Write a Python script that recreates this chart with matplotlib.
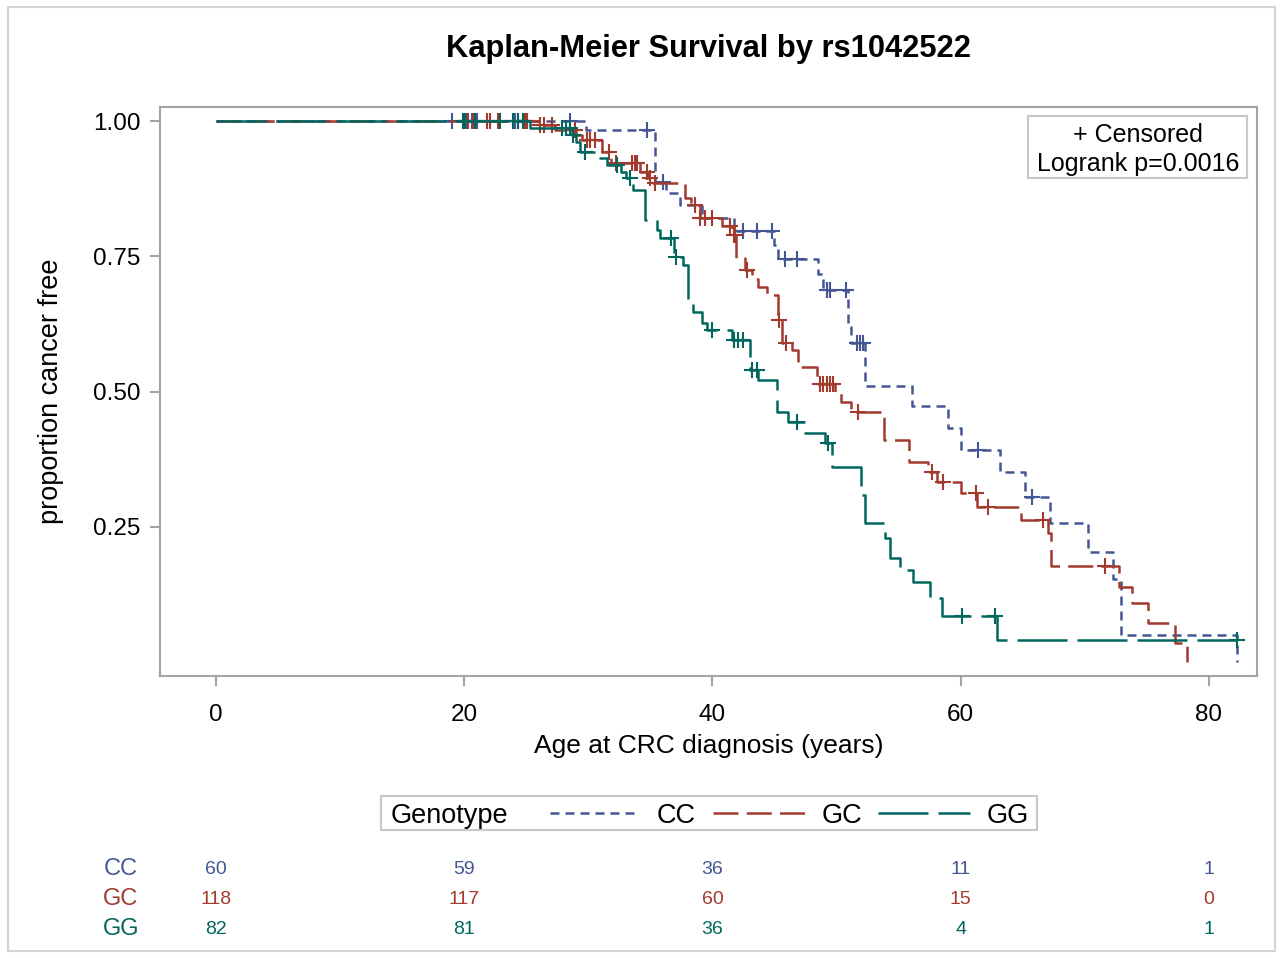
import numpy as np
import matplotlib
matplotlib.use('Agg')
import matplotlib.pyplot as plt
import matplotlib.transforms as mtransforms
from matplotlib.patches import Rectangle
from matplotlib.lines import Line2D

plt.rcParams['font.family'] = ['Liberation Sans', 'DejaVu Sans']

# ---------------- data ----------------
groups = ['CC', 'GC', 'GG']
colors = {'CC': '#445694', 'GC': '#A23A2E', 'GG': '#01665E'}

# event times and survival after each event
cc_t = [29.8, 35.4, 36.3, 37.4, 39.2, 41.7, 45.0, 45.3, 48.5, 48.9, 50.9, 51.2, 52.3,
        56.1, 59.0, 60.0, 63.2, 65.2, 67.2, 70.3, 72.3, 72.9, 82.3]
cc_s = [0.983, 0.887, 0.867, 0.845, 0.821, 0.797, 0.771, 0.745, 0.717, 0.688, 0.619, 0.590, 0.510,
        0.474, 0.433, 0.393, 0.351, 0.305, 0.257, 0.204, 0.153, 0.051, 0.0]
cc_c = [19.0, 20.2, 20.6, 21.0, 24.1, 24.7, 25.1, 28.5, 34.7, 36.0, 42.5, 43.6, 44.8,
        45.85, 46.8, 49.2, 49.5, 50.8, 51.65, 51.9, 52.1, 61.4, 65.75]

gc_t = [26.0, 27.3, 29.0, 29.5, 31.1, 31.8, 34.2, 34.8, 35.2, 37.8, 38.3, 39.0, 40.8, 41.6,
        41.9, 42.6, 43.2, 43.7, 44.4, 45.3, 45.6, 46.4, 46.9, 48.4, 49.9, 50.4, 51.2, 53.8,
        55.8, 57.4, 58.1, 60.0, 61.3, 64.9, 67.0, 67.3, 72.8, 73.8, 75.1, 77.3, 78.2]
gc_s = [0.992, 0.983, 0.974, 0.965, 0.943, 0.922, 0.906, 0.894, 0.885, 0.858, 0.845, 0.821,
        0.806, 0.789, 0.747, 0.725, 0.708, 0.693, 0.678, 0.632, 0.590, 0.577, 0.546, 0.514,
        0.497, 0.480, 0.463, 0.410, 0.370, 0.352, 0.333, 0.313, 0.287, 0.263, 0.239, 0.177,
        0.140, 0.110, 0.073, 0.036, 0.0]
gc_c = [20.3, 20.7, 21.8, 22.1, 22.7, 24.3, 24.9, 25.1, 26.1, 26.4, 27.1, 28.9, 29.9, 30.1,
        30.5, 31.7, 32.2, 33.5, 33.8, 33.9, 34.7, 35.0, 35.4, 38.6, 39.0, 39.4, 40.0, 41.4,
        41.7, 41.8, 42.8, 45.4, 45.9, 48.7, 48.9, 49.2, 49.5, 49.7, 51.7, 57.7, 58.6, 61.2,
        62.2, 66.6, 71.6]

gg_t = [25.3, 28.7, 29.0, 29.3, 30.9, 31.5, 32.6, 33.0, 33.6, 34.6, 35.5, 35.8, 36.9, 37.6,
        38.0, 38.4, 39.2, 39.6, 41.6, 43.0, 43.7, 45.2, 46.1, 47.5, 49.1, 49.6, 52.0, 52.3,
        53.9, 54.3, 55.1, 56.2, 57.5, 58.5, 62.9]
gg_s = [0.988, 0.974, 0.961, 0.943, 0.931, 0.918, 0.906, 0.894, 0.873, 0.817, 0.799, 0.784,
        0.748, 0.734, 0.669, 0.647, 0.627, 0.614, 0.595, 0.540, 0.522, 0.463, 0.444, 0.424,
        0.405, 0.361, 0.310, 0.257, 0.230, 0.193, 0.170, 0.148, 0.119, 0.085, 0.042]
gg_c = [19.9, 20.1, 20.9, 22.9, 23.9, 24.3, 24.7, 27.9, 28.2, 28.5, 28.8, 29.7, 32.3, 33.4,
        36.7, 37.1, 40.0, 41.7, 42.1, 42.5, 43.2, 43.6, 46.8, 49.3, 60.1, 62.8, 82.3]

times = {'CC': cc_t, 'GC': gc_t, 'GG': gg_t}
surv = {'CC': cc_s, 'GC': gc_s, 'GG': gg_s}
cens = {'CC': cc_c, 'GC': gc_c, 'GG': gg_c}

risk_times = [0, 20, 40, 60, 80]
risk_cc = [60, 59, 36, 11, 1]
risk_gc = [118, 117, 60, 15, 0]
risk_gg = [82, 81, 36, 4, 1]
risk = {'CC': risk_cc, 'GC': risk_gc, 'GG': risk_gg}

xticks = [0, 20, 40, 60, 80]
yticks = [0.25, 0.50, 0.75, 1.00]
ytick_labels = ['0.25', '0.50', '0.75', '1.00']

# ---------------- figure ----------------
W, H = 1282, 958
fig = plt.figure(figsize=(W / 100, H / 100), dpi=100)


def fx(px):
    return px / W


def fy(py):
    return 1 - py / H


# outer border
fig.add_artist(Rectangle((fx(8), fy(951)), fx(1275) - fx(8), fy(7) - fy(951),
                         transform=fig.transFigure, fill=False, ec='#d4d4d4', lw=1.5))

ax = fig.add_axes([fx(160), fy(676), fx(1257) - fx(160), fy(107) - fy(676)])

LW = 1.8
styles = {
    'CC': (0, (3.6, 2.4)),
    'GC': (0, (10.0, 3.3)),
    'GG': (0, (20.0, 4.0)),
}

for g in groups:
    t = [0.0] + list(times[g])
    s = [1.0] + list(surv[g])
    tmax = max(max(times[g]), max(cens[g]))
    if t[-1] < tmax:
        t.append(tmax)
        s.append(s[-1])
    ax.step(t, s, where='post', color=colors[g], lw=LW, linestyle=styles[g])
    # censor marks
    ta = np.array(times[g])
    sa = np.array(surv[g])
    ct = np.array(cens[g])
    idx = np.searchsorted(ta, ct, side='right') - 1
    cy = np.where(idx >= 0, sa[np.clip(idx, 0, None)], 1.0)
    ax.plot(ct, cy, linestyle='none', marker='+', ms=12, mew=1.5, color=colors[g])

ax.set_xlim(-4.51, 83.88)
ax.set_ylim(-0.0253, 1.0259)
ax.set_xticks(xticks)
ax.set_xticklabels([str(v) for v in xticks])
ax.set_yticks(yticks)
ax.set_yticklabels(ytick_labels)
for sp in ax.spines.values():
    sp.set_color('#a3a3a3')
    sp.set_linewidth(1.5)
ax.tick_params(axis='both', colors='#a3a3a3', labelcolor='black', labelsize=17.5,
               length=7, width=1.5)
ax.tick_params(axis='x', pad=13)
ax.tick_params(axis='y', pad=7)

ax.set_xlabel('Age at CRC diagnosis (years)', fontsize=19, labelpad=6)
ax.set_ylabel('proportion cancer free', fontsize=19.5, labelpad=21)

fig.text(fx(709), fy(49), 'Kaplan-Meier Survival by rs1042522', ha='center', va='center',
         fontsize=22.2, fontweight='bold')

# inset box
fig.add_artist(Rectangle((fx(1028), fy(178)), fx(1247) - fx(1028), fy(116) - fy(178),
                         transform=fig.transFigure, fill=True, fc='white', ec='#c8c8c8', lw=1.5))
fig.text(fx(1138), fy(135), '+ Censored', ha='center', va='center', fontsize=18)
fig.text(fx(1138), fy(164), 'Logrank p=0.0016', ha='center', va='center', fontsize=18)

# legend
fig.add_artist(Rectangle((fx(381), fy(830)), fx(1037) - fx(381), fy(796) - fy(830),
                         transform=fig.transFigure, fill=False, ec='#c8c8c8', lw=1.5))
fig.text(fx(391), fy(816), 'Genotype', ha='left', va='center', fontsize=19.5)
leg_items = [('CC', 550, 640, 657), ('GC', 713, 805, 822), ('GG', 878, 970, 987)]
for g, x0, x1, xt in leg_items:
    fig.add_artist(Line2D([fx(x0), fx(x1)], [fy(813), fy(813)], transform=fig.transFigure,
                          color=colors[g], lw=LW, linestyle=styles[g]))
    fig.text(fx(xt), fy(816), g, ha='left', va='center', fontsize=19.5)

# at-risk table
row_y = {'CC': 869, 'GC': 899, 'GG': 929}
blend = mtransforms.blended_transform_factory(ax.transData, fig.transFigure)
for g in groups:
    fig.text(fx(121), fy(row_y[g]), g, ha='center', va='center', fontsize=17, color=colors[g])
    for tt, n in zip(risk_times, risk[g]):
        fig.text(tt, fy(row_y[g]), str(n), ha='center', va='center', fontsize=14,
                 color=colors[g], transform=blend)

fig.savefig('out.png', dpi=100)
